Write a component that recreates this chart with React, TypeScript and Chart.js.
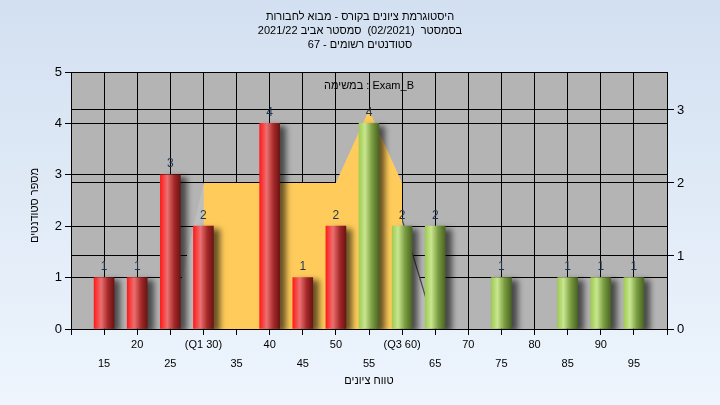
import React, { useEffect, useRef } from 'react';
import { Chart, registerables } from 'chart.js';

Chart.register(...registerables);

// ---- texts ----
const titleLines = [
  'היסטוגרמת ציונים בקורס - מבוא לחבורות',
  'בסמסטר  (02/2021)  סמסטר אביב 2021/22',
  'סטודנטים רשומים - 67',
];
const yAxisTitle = 'מספר סטודנטים';
const xAxisTitle = 'טווח ציונים';
const examLabel = 'Exam_B : במשימה';

// ---- data ----
const scoreBins = [15, 20, 25, 30, 40, 45, 50, 55, 60, 65, 75, 85, 90, 95];
const studentCounts = [1, 1, 3, 2, 4, 1, 2, 4, 2, 2, 1, 1, 1, 1];
const passScore = 55;

// interquartile area (right axis)
const iqrX = [30, 30, 50, 55, 60, 60];
const iqrY = [0, 2, 2, 3, 2, 0];
// spread area (right axis)
const spreadX = [25, 30, 50, 55, 65];
const spreadY = [0, 2, 2, 3, 0];

// ---- axes ----
const xMin = 10;
const xMax = 100;
const xStep = 5;
const xTickValues = [15, 20, 25, 30, 35, 40, 45, 50, 55, 60, 65, 70, 75, 80, 85, 90, 95];
const xTickLabels = ['15', '20', '25', '(Q1 30)', '35', '40', '45', '50', '55', '(Q3 60)', '65', '70', '75', '80', '85', '90', '95'];
const yMin = 0;
const yMax = 5;
const y2Min = 0;
const y2Max = 3.52;

const FONT = '"Liberation Sans", Arial, "DejaVu Sans", sans-serif';

const barGradient = (ctx: CanvasRenderingContext2D, x: number, pass: boolean) => {
  const g = ctx.createLinearGradient(x - 10, 0, x + 10, 0);
  if (pass) {
    g.addColorStop(0, '#a0cc52');
    g.addColorStop(0.3, '#c8e690');
    g.addColorStop(0.65, '#7a9c40');
    g.addColorStop(1, '#4a6424');
  } else {
    g.addColorStop(0, '#ff1c1c');
    g.addColorStop(0.35, '#ec7070');
    g.addColorStop(0.7, '#a42828');
    g.addColorStop(1, '#6c1414');
  }
  return g;
};

const bgPlugin = {
  id: 'bgPlugin',
  beforeDraw(chart: any) {
    const { ctx, chartArea, width, height } = chart;
    ctx.save();
    const g = ctx.createLinearGradient(0, 0, 0, height);
    g.addColorStop(0, '#d3e0f1');
    g.addColorStop(1, '#eef5fd');
    ctx.fillStyle = g;
    ctx.fillRect(0, 0, width, height);
    ctx.fillStyle = '#b4b4b4';
    ctx.fillRect(chartArea.left, chartArea.top, chartArea.right - chartArea.left, chartArea.bottom - chartArea.top);
    ctx.restore();
  },
};

const shadowPlugin = {
  id: 'shadowPlugin',
  beforeDatasetDraw(chart: any, args: any) {
    if (args.meta.type === 'bar') {
      const ctx = chart.ctx;
      ctx.save();
      ctx.shadowColor = 'rgba(0,0,0,0.6)';
      ctx.shadowOffsetX = 6;
      ctx.shadowOffsetY = 3;
      ctx.shadowBlur = 6;
    }
  },
  afterDatasetDraw(chart: any, args: any) {
    if (args.meta.type === 'bar') chart.ctx.restore();
  },
};

const textPlugin = {
  id: 'textPlugin',
  afterDraw(chart: any) {
    const { ctx, chartArea } = chart;
    ctx.save();
    // bar value labels
    const meta = chart.getDatasetMeta(0);
    ctx.font = `12px ${FONT}`;
    ctx.fillStyle = '#1c3550';
    ctx.textAlign = 'center';
    ctx.textBaseline = 'middle';
    meta.data.forEach((el: any, i: number) => {
      ctx.fillText(String(studentCounts[i]), el.x, el.y - 11);
    });
    ctx.direction = 'rtl';
    ctx.fillStyle = '#000';
    ctx.font = `11px ${FONT}`;
    titleLines.forEach((t, i) => ctx.fillText(t, chart.width / 2, 17 + i * 14));
    const cx = (chartArea.left + chartArea.right) / 2;
    ctx.fillText(examLabel, cx, chartArea.top + 14);
    ctx.fillText(xAxisTitle, cx, 381);
    ctx.translate(35, (chartArea.top + chartArea.bottom) / 2 + 5);
    ctx.rotate(-Math.PI / 2);
    ctx.fillText(yAxisTitle, 0, 0);
    ctx.restore();
  },
};

export default function App() {
  const ref = useRef<HTMLCanvasElement | null>(null);

  useEffect(() => {
    if (!ref.current) return;
    const chart = new Chart(ref.current, {
      type: 'bar',
      data: {
        datasets: [
          {
            type: 'bar',
            label: 'students',
            data: scoreBins.map((s, i) => ({ x: s, y: studentCounts[i] })),
            yAxisID: 'y',
            order: 0,
            barThickness: 20,
            borderWidth: 0,
            backgroundColor: (c: any) => {
              const chart = c.chart;
              if (!chart.chartArea || !c.raw) return '#ff3030';
              const x = chart.scales.x.getPixelForValue(c.raw.x);
              return barGradient(chart.ctx, x, c.raw.x >= passScore);
            },
          } as any,
          {
            type: 'line',
            label: 'iqr',
            data: iqrX.map((x, i) => ({ x, y: iqrY[i] })),
            yAxisID: 'y2',
            order: 1,
            fill: 'origin',
            backgroundColor: '#ffcb5a',
            borderWidth: 0,
            borderColor: 'rgba(0,0,0,0)',
            pointRadius: 0,
            tension: 0,
          } as any,
          {
            type: 'line',
            label: 'spread',
            data: spreadX.map((x, i) => ({ x, y: spreadY[i] })),
            yAxisID: 'y2',
            order: 2,
            fill: 'origin',
            backgroundColor: '#bebebe',
            borderWidth: 1.2,
            borderColor: '#4a4a4a',
            segment: {
              borderColor: (s: any) => (s.p0.parsed.x >= passScore ? '#4a4a4a' : 'rgba(0,0,0,0)'),
            },
            pointRadius: 0,
            tension: 0,
          } as any,
        ],
      },
      options: {
        responsive: false,
        animation: false,
        devicePixelRatio: 1,
        layout: { padding: { top: 72, left: 0, right: 0, bottom: 0 } },
        plugins: {
          legend: { display: false },
          tooltip: { enabled: false },
          title: { display: false },
        },
        scales: {
          x: {
            type: 'linear',
            min: xMin,
            max: xMax,
            offset: false,
            grid: { offset: false, color: '#000', tickColor: '#000', tickLength: 6, lineWidth: 1 },
            border: { color: '#000', width: 1 },
            ticks: {
              stepSize: xStep,
              autoSkip: false,
              maxRotation: 0,
              minRotation: 0,
              padding: 0,
              color: '#000',
              font: { family: FONT, size: 11, lineHeight: 19 / 11 },
              callback: (v: any) => {
                const idx = xTickValues.indexOf(Number(v));
                if (idx < 0) return '';
                return idx % 2 === 0 ? ['', xTickLabels[idx]] : [xTickLabels[idx]];
              },
            },
            afterFit: (s: any) => {
              s.height = 76;
            },
          },
          y: {
            position: 'left',
            min: yMin,
            max: yMax,
            grid: { color: '#000', tickColor: '#000', tickLength: 6 },
            border: { color: '#000', width: 1 },
            ticks: {
              stepSize: 1,
              padding: 3,
              color: '#000',
              font: { family: FONT, size: 13 },
            },
            afterFit: (s: any) => {
              s.width = 71;
            },
          },
          y2: {
            position: 'right',
            min: y2Min,
            max: y2Max,
            grid: { color: '#000', tickColor: '#000', tickLength: 7, drawOnChartArea: true },
            border: { color: '#000', width: 1 },
            ticks: {
              stepSize: 1,
              includeBounds: false,
              padding: 3,
              color: '#000',
              font: { family: FONT, size: 13 },
            },
            afterFit: (s: any) => {
              s.width = 53;
            },
          },
        },
      } as any,
      plugins: [bgPlugin, shadowPlugin, textPlugin],
    });
    return () => chart.destroy();
  }, []);

  return (
    <div style={{ position: 'absolute', left: 0, top: 0, width: 720, height: 405 }}>
      <canvas ref={ref} width={720} height={405} style={{ display: 'block' }} />
    </div>
  );
}
